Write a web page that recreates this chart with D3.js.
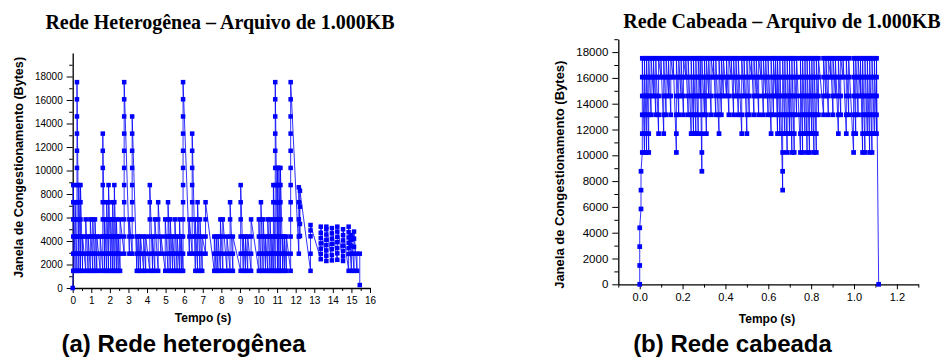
<!DOCTYPE html>
<html>
<head>
<meta charset="utf-8">
<script src="https://cdn.jsdelivr.net/npm/d3@7"></script>
<style>
  body { margin: 0; background: #fff; }
  svg text { font-family: "Liberation Sans", Arial, sans-serif; fill: #000; }
</style>
</head>
<body>
<svg id="fig" width="942" height="358"></svg>
<script>
// ---- (a) rede heterogênea: tempo (s) de cada coluna e valores de cwnd (bytes) lidos nela
const hetTimes = [0, 0.03, 0.13, 0.23, 0.33, 0.42, 0.53, 0.70, 0.83, 0.95, 1.08, 1.20, 1.30, 1.48, 1.62, 1.72, 1.83, 1.93,
  2.05, 2.15, 2.24, 2.35, 2.45, 2.55, 2.77, 3.05, 3.20, 3.45, 3.55, 3.65, 3.82, 3.93, 4.15, 4.30, 4.42, 4.60, 4.75,
  4.98, 5.13, 5.25, 5.38, 5.50, 5.62, 5.75, 5.85, 5.94, 6.28, 6.43, 6.60, 6.72, 6.85, 6.97, 7.15, 7.62, 7.72, 7.82,
  7.95, 8.08, 8.30, 8.47, 8.62, 9.04, 9.18, 9.30, 9.42, 9.60, 10.02, 10.13, 10.25, 10.38, 10.50, 10.62, 10.72, 10.80,
  10.90, 11.02, 11.10, 11.18, 11.30, 11.40, 11.50, 11.73, 12.17, 12.23, 12.80, 13.35, 13.65, 13.95, 14.24, 14.55,
  14.85, 15.00, 15.14, 15.30, 15.45];
const hetCwnd = [
  [0],
  [1460, 2920, 4380, 5840, 7300, 8760],
  [1460, 2920, 4380, 5840, 7300],
  [1460, 2920, 4380, 5840, 7300, 8760, 10220, 11680, 13140, 14600, 16060, 17520],
  [1460, 2920, 4380, 5840, 7300, 8760],
  [1460, 2920, 4380, 5840, 7300, 8760],
  [1460, 2920, 4380],
  [1460, 2920, 4380, 5840],
  [1460, 2920, 4380],
  [1460, 2920, 4380, 5840],
  [1460, 2920, 4380, 5840],
  [1460, 2920, 4380, 5840],
  [1460, 2920, 4380],
  [1460, 2920, 4380],
  [1460, 2920, 4380, 5840, 7300, 8760, 10220, 11680, 13140],
  [1460, 2920, 4380, 5840],
  [1460, 2920, 4380, 5840, 7300],
  [1460, 2920, 4380, 5840, 7300, 8760],
  [1460, 2920, 4380, 5840],
  [1460, 2920, 4380, 5840, 7300],
  [1460, 2920, 4380, 5840, 7300, 8760],
  [1460, 2920, 4380, 5840],
  [1460, 2920, 4380],
  [1460, 2920, 4380, 5840],
  [2920, 4380, 5840, 7300, 8760, 10220, 11680, 13140, 14600, 16060, 17520],
  [2920, 4380, 5840],
  [2920, 4380, 5840, 7300, 8760, 10220, 11680, 13140, 14600],
  [1460, 2920, 4380],
  [1460, 2920, 4380],
  [1460, 2920, 4380],
  [1460, 2920, 4380],
  [1460, 2920, 4380],
  [1460, 2920, 4380, 5840, 7300, 8760],
  [1460, 2920, 4380],
  [1460, 2920, 4380, 5840],
  [1460, 2920, 4380, 5840, 7300],
  [2920, 4380],
  [1460, 2920, 4380, 5840],
  [1460, 2920, 4380, 5840, 7300],
  [1460, 2920, 4380, 5840],
  [1460, 2920, 4380],
  [1460, 2920, 4380, 5840],
  [1460, 2920, 4380],
  [1460, 2920, 4380, 5840],
  [1460, 2920, 4380],
  [1460, 2920, 4380, 5840, 7300, 8760, 10220, 11680, 13140, 14600, 16060, 17520],
  [2920, 4380, 5840],
  [2920, 4380, 5840, 7300, 8760, 10220, 11680, 13140],
  [1460, 2920, 4380, 5840],
  [1460, 2920, 4380, 5840, 7300],
  [1460, 2920, 4380, 5840],
  [1460, 2920, 4380],
  [2920, 4380, 5840, 7300],
  [1460, 2920, 4380],
  [1460, 2920, 4380],
  [1460, 2920, 4380],
  [1460, 2920, 4380, 5840],
  [1460, 2920, 4380, 5840],
  [1460, 2920, 4380],
  [1460, 2920, 4380, 5840, 7300],
  [1460, 2920, 4380],
  [1460, 2920, 4380, 5840, 7300, 8760],
  [1460, 2920, 4380],
  [1460, 2920, 4380],
  [1460, 2920, 4380],
  [1460, 2920, 4380, 5840],
  [1460, 2920, 4380, 5840],
  [1460, 2920, 4380, 5840, 7300],
  [1460, 2920, 4380, 5840],
  [1460, 2920, 4380],
  [1460, 2920, 4380, 5840],
  [1460, 2920, 4380, 5840],
  [1460, 2920, 4380],
  [1460, 2920, 4380, 5840, 7300, 8760],
  [1460, 2920, 4380, 5840, 7300, 8760, 10220, 11680, 13140, 14600, 16060, 17520],
  [1460, 2920, 4380, 5840, 7300, 8760, 10220],
  [1460, 2920, 4380, 5840, 7300, 8760, 10220],
  [1460, 2920, 4380, 5840, 7300, 8760, 10220],
  [1460, 2920, 4380],
  [1460, 2920, 4380],
  [1460, 2920, 4380],
  [1460, 2920, 4380, 5840, 7300, 8760, 10220, 11680, 13140, 14600, 16060, 17520],
  [2920, 4380, 5840, 7300, 8570],
  [4430, 5450, 6920, 8280],
  [1460, 2920, 4400, 4900, 5360],
  [2450, 2900, 3350, 3800, 4250, 4700, 5220],
  [2300, 2750, 3200, 3650, 4100, 4550, 5000, 5220],
  [2350, 2800, 3300, 3750, 4200, 4650, 5100],
  [2400, 2950, 3400, 3900, 4350, 4800, 5220],
  [2300, 2700, 3150, 3600, 4050, 4500, 5000],
  [1460, 2900, 3400, 3850, 4300, 4750, 5220],
  [1460, 2920, 3600, 4100, 4500],
  [1460, 2920, 3500, 4200, 4800],
  [1460, 2920],
  [2920, 250]
];

// ---- (b) rede cabeada
const cabTimes = [0, 0.006, 0.012, 0.022, 0.032, 0.042, 0.053, 0.064, 0.075, 0.088, 0.099, 0.112, 0.123, 0.134, 0.145,
  0.156, 0.171, 0.182, 0.193, 0.204, 0.215, 0.226, 0.240, 0.251, 0.262, 0.273, 0.282, 0.290, 0.302, 0.311, 0.322,
  0.333, 0.344, 0.355, 0.370, 0.381, 0.390, 0.405, 0.416, 0.427, 0.438, 0.449, 0.460, 0.476, 0.487, 0.500, 0.511,
  0.522, 0.533, 0.544, 0.555, 0.566, 0.577, 0.588, 0.599, 0.613, 0.624, 0.634, 0.643, 0.654, 0.667, 0.677, 0.688,
  0.699, 0.710, 0.721, 0.732, 0.750, 0.760, 0.771, 0.781, 0.792, 0.803, 0.813, 0.824, 0.834, 0.858, 0.869, 0.880,
  0.891, 0.902, 0.913, 0.927, 0.938, 0.949, 0.964, 0.975, 0.998, 1.008, 1.019, 1.030, 1.040, 1.051, 1.062, 1.073,
  1.084, 1.095, 1.105, 1.115];
const cabCwnd = [
  [0, 1460, 2920, 4380],
  [5840, 7300, 8760],
  [10220, 11680, 13140, 14600, 16060, 17520],
  [10220, 11680, 13140, 14600, 16060, 17520],
  [10220, 11680, 13140, 14600, 16060, 17520],
  [10220, 11680, 13140, 14600, 16060, 17520],
  [13140, 14600, 16060, 17520],
  [14600, 16060, 17520],
  [13140, 14600, 16060, 17520],
  [11680, 13140, 14600, 16060, 17520],
  [16060, 17520],
  [11680, 13140, 14600, 16060, 17520],
  [13140, 14600, 16060, 17520],
  [14600, 16060, 17520],
  [13140, 14600, 16060, 17520],
  [16060, 17520],
  [10220, 11680, 13140, 14600, 16060, 17520],
  [13140, 14600, 16060, 17520],
  [14600, 16060, 17520],
  [13140, 14600, 16060, 17520],
  [16060, 17520],
  [13140, 14600, 16060, 17520],
  [11680, 13140, 14600, 16060, 17520],
  [11680, 13140, 14600, 16060, 17520],
  [11680, 13140, 14600, 16060, 17520],
  [11680, 13140, 14600, 16060, 17520],
  [14600, 16060, 17520],
  [8760, 10220, 11680, 13140, 14600, 16060, 17520],
  [13140, 14600, 16060, 17520],
  [11680, 13140, 14600, 16060, 17520],
  [14600, 16060, 17520],
  [13140, 14600, 16060, 17520],
  [16060, 17520],
  [13140, 14600, 16060, 17520],
  [11680, 13140, 14600, 16060, 17520],
  [13140, 14600, 16060, 17520],
  [14600, 16060, 17520],
  [14600, 16060, 17520],
  [13140, 14600, 16060, 17520],
  [16060, 17520],
  [13140, 14600, 16060, 17520],
  [14600, 16060, 17520],
  [13140, 14600, 16060, 17520],
  [11680, 13140, 14600, 16060, 17520],
  [14600, 16060, 17520],
  [11680, 13140, 14600, 16060, 17520],
  [13140, 14600, 16060, 17520],
  [16060, 17520],
  [13140, 14600, 16060, 17520],
  [14600, 16060, 17520],
  [13140, 14600, 16060, 17520],
  [16060, 17520],
  [13140, 14600, 16060, 17520],
  [14600, 16060, 17520],
  [13140, 14600, 16060, 17520],
  [11680, 13140, 14600, 16060, 17520],
  [13140, 14600, 16060, 17520],
  [14600, 16060, 17520],
  [11680, 13140, 14600, 16060, 17520],
  [11680, 13140, 14600, 16060, 17520],
  [7300, 8760, 10220, 11680, 13140, 14600, 16060, 17520],
  [11680, 13140, 14600, 16060, 17520],
  [10220, 11680, 13140, 14600, 16060, 17520],
  [11680, 13140, 14600, 16060, 17520],
  [10220, 11680, 13140, 14600, 16060, 17520],
  [10220, 11680, 13140, 14600, 16060, 17520],
  [13140, 14600, 16060, 17520],
  [10220, 11680, 13140, 14600, 16060, 17520],
  [10220, 11680, 13140, 14600, 16060, 17520],
  [11680, 13140, 14600, 16060, 17520],
  [10220, 11680, 13140, 14600, 16060, 17520],
  [10220, 11680, 13140, 14600, 16060, 17520],
  [11680, 13140, 14600, 16060, 17520],
  [10220, 11680, 13140, 14600, 16060, 17520],
  [10220, 11680, 13140, 14600, 16060, 17520],
  [13140, 14600, 16060, 17520],
  [13140, 14600, 16060, 17520],
  [14600, 16060, 17520],
  [13140, 14600, 16060, 17520],
  [16060, 17520],
  [13140, 14600, 16060, 17520],
  [14600, 16060, 17520],
  [11680, 13140, 14600, 16060, 17520],
  [13140, 14600, 16060, 17520],
  [16060, 17520],
  [11680, 13140, 14600, 16060, 17520],
  [13140, 14600, 16060, 17520],
  [10220, 11680, 13140, 14600, 16060, 17520],
  [11680, 13140, 14600, 16060, 17520],
  [13140, 14600, 16060, 17520],
  [14600, 16060, 17520],
  [10220, 11680, 13140, 14600, 16060, 17520],
  [10220, 11680, 13140, 14600, 16060, 17520],
  [11680, 13140, 14600, 16060, 17520],
  [10220, 11680, 13140, 14600, 16060, 17520],
  [10220, 11680, 13140, 14600, 16060, 17520],
  [11680, 13140, 14600, 16060, 17520],
  [11680, 13140, 14600, 16060, 17520],
  [0]
];

// ---- ticks
const hetXTicks = [0, 1, 2, 3, 4, 5, 6, 7, 8, 9, 10, 11, 12, 13, 14, 15, 16];
const hetYTicks = [0, 2000, 4000, 6000, 8000, 10000, 12000, 14000, 16000, 18000];
const cabXTicks = [0.0, 0.2, 0.4, 0.6, 0.8, 1.0, 1.2];
const cabYTicks = [0, 2000, 4000, 6000, 8000, 10000, 12000, 14000, 16000, 18000];

const svg = d3.select("#fig");

function drawPanel(p) {
    const data = p.times.flatMap((t, i) => p.cwnd[i].map(v => ({ t: t, v: v })));

    const x = d3.scaleLinear().domain(p.xDomain).range(p.xRange);
    const y = d3.scaleLinear().domain(p.yDomain).range(p.yRange);
    const x0 = p.xRange[0], y0 = p.yRange[0];

    const g = svg.append("g");

    // minor ticks
    g.append("g")
        .attr("transform", `translate(0,${y0})`)
        .call(d3.axisBottom(x).tickValues(p.xMinor).tickSize(p.xMinorLen).tickFormat(""))
        .call(a => a.select(".domain").remove());
    g.append("g")
        .attr("transform", `translate(${x0},0)`)
        .call(d3.axisLeft(y).tickValues(p.yMinor).tickSize(p.yMinorLen).tickFormat(""))
        .call(a => a.select(".domain").remove());

    // major ticks + labels
    const xa = g.append("g")
        .attr("transform", `translate(0,${y0})`)
        .call(d3.axisBottom(x).tickValues(p.xTicks).tickSizeInner(5).tickSizeOuter(0)
            .tickPadding(4).tickFormat(p.xFormat));
    xa.selectAll("text").attr("font-size", p.xFont).attr("font-family", null);

    const ya = g.append("g")
        .attr("transform", `translate(${x0},0)`)
        .call(d3.axisLeft(y).tickValues(p.yTicks).tickSizeInner(6).tickSizeOuter(0)
            .tickPadding(4).tickFormat(d3.format("d")));
    ya.selectAll("text").attr("font-size", p.yFont).attr("font-family", null);

    g.selectAll(".domain").attr("stroke", "#000").attr("stroke-width", 1.3);
    g.selectAll(".tick line").attr("stroke", "#000").attr("stroke-width", 1);

    // series
    g.append("path")
        .datum(data)
        .attr("fill", "none")
        .attr("stroke", "#0000ff")
        .attr("stroke-opacity", 0.8)
        .attr("stroke-width", 1)
        .attr("d", d3.line().x(d => x(d.t)).y(d => y(d.v)));

    g.append("g").selectAll("rect")
        .data(data)
        .join("rect")
        .attr("x", d => x(d.t) - p.marker / 2)
        .attr("y", d => y(d.v) - p.marker / 2)
        .attr("width", p.marker)
        .attr("height", p.marker)
        .attr("fill", "#0000ff");

    // texts
    svg.append("text")
        .attr("x", p.title[0]).attr("y", p.title[1])
        .attr("text-anchor", "middle")
        .style("font-family", '"Liberation Serif", "Times New Roman", serif')
        .attr("font-weight", "bold").attr("font-size", 20)
        .text(p.titleText);

    svg.append("text")
        .attr("transform", `translate(${p.yLabel[0]},${p.yLabel[1]}) rotate(-90)`)
        .attr("text-anchor", "middle")
        .attr("dominant-baseline", "central")
        .attr("font-weight", "bold").attr("font-size", p.yLabelFont)
        .text("Janela de Congestionamento (Bytes)");

    svg.append("text")
        .attr("x", p.xLabel[0]).attr("y", p.xLabel[1])
        .attr("text-anchor", "middle")
        .attr("font-weight", "bold").attr("font-size", 12)
        .text("Tempo (s)");

    svg.append("text")
        .attr("x", p.caption[0]).attr("y", p.caption[1])
        .attr("text-anchor", "middle")
        .attr("font-weight", "bold").attr("font-size", 24)
        .text(p.captionText);
}

drawPanel({
    times: hetTimes, cwnd: hetCwnd,
    xDomain: [0, 16], xRange: [72.7, 370],
    yDomain: [0, 20000], yRange: [288, 53],
    xTicks: hetXTicks, yTicks: hetYTicks,
    xMinor: d3.range(0.5, 16, 1), yMinor: d3.range(1000, 20001, 2000),
    xMinorLen: 3, yMinorLen: 3.5,
    xFormat: d3.format("d"), xFont: 10, yFont: 10,
    marker: 4.5,
    titleText: "Rede Heterogênea – Arquivo de 1.000KB", title: [220, 28.5],
    yLabel: [18.5, 167.5], yLabelFont: 12.6,
    xLabel: [203, 322],
    captionText: "(a) Rede heterogênea", caption: [183.5, 352]
});

drawPanel({
    times: cabTimes, cwnd: cabCwnd,
    xDomain: [-0.1, 1.3], xRange: [618.3, 918.3],
    yDomain: [0, 19000], yRange: [284.3, 39.2],
    xTicks: cabXTicks, yTicks: cabYTicks,
    xMinor: [-0.1, 0.1, 0.3, 0.5, 0.7, 0.9, 1.1, 1.3], yMinor: d3.range(1000, 19001, 2000),
    xMinorLen: 3.3, yMinorLen: 4,
    xFormat: d3.format(".1f"), xFont: 11, yFont: 11.5,
    marker: 4.7,
    titleText: "Rede Cabeada – Arquivo de 1.000KB", title: [782, 27.7],
    yLabel: [559, 174.7], yLabelFont: 13,
    xLabel: [767, 323],
    captionText: "(b) Rede cabeada", caption: [732.5, 352]
});
</script>
</body>
</html>
